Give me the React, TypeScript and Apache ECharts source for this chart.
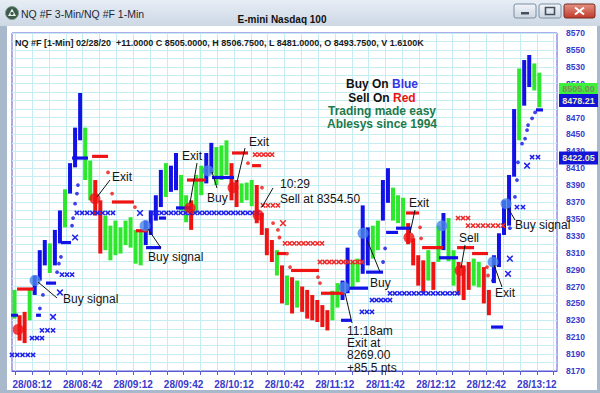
import React, { useEffect, useRef } from "react";
import * as echarts from "echarts";

// ---------- axis / labels ----------
const xTickLabels = ["28/08:12", "28/08:42", "28/09:12", "28/09:42", "28/10:12", "28/10:42", "28/11:12", "28/11:42", "28/12:12", "28/12:42", "28/13:12"];
const xLabelMinutes = [12, 42, 72, 102, 132, 162, 192, 222, 252, 282, 312]; // minutes after 08:00
const xTickMinutes = [2, 12, 22, 32, 42, 52, 62, 72, 82, 92, 102, 112, 122, 132, 142, 152, 162, 172, 182, 192, 202, 212, 222, 232, 242, 252, 262, 272, 282, 292, 302, 312, 322];
const yMin = 8170;
const yMax = 8570;

// ---------- price bars (3-minute bars from 08:00) ----------
const barStartMinute = 0;
const barMinutes = 3;
const barHigh = [
  8266, 8236, 8240, 8266, 8283, 8313, 8325, 8321, 8337, 8360,
  8385, 8416, 8458, 8499, 8458, 8419, 8396, 8372, 8354, 8342,
  8348, 8340, 8348, 8352, 8337, 8335, 8348, 8360, 8378, 8408,
  8416, 8413, 8428, 8402, 8378, 8372, 8402, 8413, 8428, 8440,
  8435, 8437, 8443, 8416, 8396, 8392, 8393, 8396, 8390, 8357,
  8339, 8325, 8313, 8295, 8283, 8281, 8277, 8270, 8266, 8260,
  8254, 8248, 8242, 8265, 8274, 8277, 8316, 8299, 8303, 8366,
  8340, 8342, 8348, 8396, 8410, 8387, 8378, 8375, 8345, 8327,
  8307, 8301, 8313, 8299, 8342, 8357, 8351, 8313, 8299, 8295,
  8299, 8303, 8299, 8293, 8266, 8307, 8333, 8372, 8402, 8480,
  8528, 8538, 8544, 8534, 8523,
];
const barLow = [
  8232, 8206, 8203, 8230, 8260, 8277, 8295, 8286, 8295, 8321,
  8340, 8380, 8411, 8443, 8396, 8372, 8354, 8309, 8313, 8301,
  8307, 8309, 8319, 8316, 8297, 8295, 8319, 8331, 8348, 8364,
  8376, 8382, 8384, 8360, 8346, 8337, 8357, 8378, 8392, 8404,
  8390, 8396, 8402, 8372, 8364, 8369, 8372, 8365, 8345, 8331,
  8307, 8299, 8283, 8250, 8248, 8238, 8245, 8240, 8232, 8230,
  8228, 8222, 8218, 8230, 8245, 8254, 8262, 8269, 8275, 8285,
  8295, 8303, 8313, 8348, 8369, 8348, 8345, 8340, 8320, 8295,
  8271, 8262, 8277, 8266, 8299, 8313, 8300, 8271, 8260, 8254,
  8266, 8271, 8269, 8250, 8236, 8274, 8293, 8331, 8342, 8400,
  8443, 8484, 8506, 8502, 8482,
];
// G = green, R = red, B = blue
const barColorCodes =
  "GRRGBBBGBB" + "GBBBGGRRGG" + "GGGGGGBBBB" + "GBBGGRGGBB" + "GGGRRGGGRR" +
  "RRGRGRGRRR" + "RRRGGBBGGB" + "BGGBBGGGRR" + "RRGRGBGGRR" + "RGGRRBBBBB" + "GBBGG";

// ---------- indicator markers: [startMinute, endMinute, price] / [minute, price] ----------
const blueXRows = [
  [0, 12.5, 8189], [11.9, 17.8, 8209], [17.8, 24.4, 8218], [24.4, 24.4, 8234], [28.5, 28.5, 8263],
  [29.7, 35.7, 8284], [37.5, 37.5, 8328], [38.6, 60, 8357], [76.1, 76.1, 8357], [83.2, 145.7, 8357],
  [208, 214, 8240], [214, 224.7, 8254], [224.7, 264.6, 8262], [294.9, 294.9, 8285], [296, 296, 8303],
  [300.2, 303.8, 8364], [306.2, 306.2, 8413], [309.2, 312.7, 8423],
];
const blueDots = [
  [16.6, 8244], [18.4, 8260], [26.8, 8287], [27.9, 8297], [29.1, 8305], [35.7, 8342], [36.3, 8351],
  [37.5, 8368], [38.6, 8380], [39.2, 8390], [220.6, 8299], [221.8, 8315], [285.9, 8277], [296, 8339],
  [299, 8376], [300.2, 8396], [300.8, 8417], [303.2, 8439], [305, 8445], [306.2, 8455], [306.8, 8461],
  [309.2, 8469], [311, 8476],
];
const blueDashes = [
  [0, 3, 8236], [14.9, 16.6, 8236], [20.8, 25.6, 8274], [29.7, 34.5, 8322], [36.3, 44.6, 8422],
  [80.3, 88, 8316], [88, 91, 8351], [98.1, 105.8, 8363], [119.5, 131.4, 8399], [196.2, 201, 8230],
  [201, 211.1, 8268], [211.1, 220, 8287], [223, 228.9, 8334], [228.9, 236.6, 8339], [254.5, 264.6, 8304],
  [285.4, 291.3, 8222], [312.1, 315.1, 8479],
];
const redXRows = [
  [144.5, 154.6, 8426], [149.2, 158.1, 8366], [161.1, 161.1, 8345], [162.3, 184.3, 8321],
  [183.1, 208.1, 8299], [265.2, 271.1, 8351], [271.1, 291.9, 8342],
];
const redDots = [
  [57.1, 8405], [59.5, 8380], [73.1, 8364], [140.3, 8416], [148.6, 8387], [155.2, 8345], [158.1, 8337],
  [159, 8328], [163.5, 8309], [165.3, 8293], [181.9, 8281], [183.1, 8274], [242.6, 8340], [243.2, 8327],
  [282.4, 8293], [283, 8283],
];
const redDashes = [
  [3.6, 12.5, 8267], [48.2, 56.5, 8424], [60, 71.9, 8370], [74.3, 80.3, 8336], [104.6, 114.7, 8396],
  [131.4, 139.7, 8428], [143.3, 147.4, 8413], [158.1, 162.3, 8309], [166.5, 181.9, 8289],
  [184.3, 196.8, 8262], [234.8, 241.4, 8357], [244.4, 255.6, 8316], [265.2, 274.1, 8316], [274.1, 282.4, 8309],
];
const redSignals = [[3.6, 8219], [49.3, 8374], [105.8, 8363], [131.4, 8387], [146.3, 8354.5], [236, 8328], [266.4, 8289]];
const blueSignals = [[13.7, 8277], [79.1, 8342], [116.5, 8407], [197.4, 8269], [208.7, 8333], [255.6, 8342], [286, 8299], [293.7, 8368]];

const priceBadges = [8505.0, 8478.21, 8422.05];
const headerText = "NQ #F [1-Min] 02/28/20  +11.0000 C 8505.0000, H 8506.7500, L 8481.0000, O 8493.7500, V 1.6100K";

// ---------- styles ----------
const FONT = "Liberation Sans, Arial, sans-serif";
const BLUE = "#1212e6";
const GREEN = "#2ee82e";
const RED = "#ee1414";
const AXIS_BLUE = "#5a5ad6";
const LABEL_BLUE = "#3a3acb";
const GRID_CYAN = "#c6eef2";
const colorMap: Record<string, string> = { G: GREEN, R: RED, B: BLUE };

const xRowRender = (color: string) => (params: any, api: any) => {
  const a = api.coord([api.value(0), api.value(2)]);
  const b = api.coord([api.value(1), api.value(2)]);
  const span = b[0] - a[0];
  const single = span < 1;
  const n = single ? 1 : Math.max(2, Math.round(span / 4.8) + 1);
  const h = single ? 2.8 : 2.1;
  const children: any[] = [];
  for (let i = 0; i < n; i++) {
    const cx = n === 1 ? a[0] : a[0] + (span * i) / (n - 1);
    const cy = a[1];
    children.push({ type: "line", shape: { x1: cx - h, y1: cy - h, x2: cx + h, y2: cy + h }, style: { stroke: color, lineWidth: 1.5 } });
    children.push({ type: "line", shape: { x1: cx - h, y1: cy + h, x2: cx + h, y2: cy - h }, style: { stroke: color, lineWidth: 1.5 } });
  }
  return { type: "group", children };
};

const dashRender = (color: string) => (params: any, api: any) => {
  const a = api.coord([api.value(0), api.value(2)]);
  const b = api.coord([api.value(1), api.value(2)]);
  return {
    type: "rect",
    shape: { x: a[0] - 1, y: a[1] - 1.6, width: Math.max(3, b[0] - a[0] + 2), height: 3.2 },
    style: { fill: color },
  };
};

function buildOption() {
  const barData = barHigh.map((h, i) => [barStartMinute + barMinutes * i + barMinutes / 2, barLow[i], h]);
  return {
    animation: false,
    backgroundColor: "transparent",
    grid: { left: 12, right: 43, top: 33, bottom: 22, show: true, backgroundColor: "#ffffff", borderColor: AXIS_BLUE, borderWidth: 1 },
    xAxis: {
      type: "value",
      min: 0,
      max: 324,
      interval: 5,
      axisLine: { show: true, lineStyle: { color: AXIS_BLUE, width: 1 } },
      axisTick: { show: true, customValues: xTickMinutes, length: 4, lineStyle: { color: AXIS_BLUE } },
      axisLabel: {
        customValues: xLabelMinutes,
        formatter: (v: number) => {
          const idx = xLabelMinutes.indexOf(Math.round(v));
          return idx >= 0 ? xTickLabels[idx] : "";
        },
        color: LABEL_BLUE,
        fontWeight: "bold",
        fontSize: 10,
        fontFamily: FONT,
        margin: 8,
      },
      splitLine: { show: true, lineStyle: { color: GRID_CYAN, width: 1 } },
    },
    yAxis: {
      type: "value",
      position: "right",
      min: yMin,
      max: yMax,
      interval: 10,
      axisLine: { show: false },
      axisTick: { show: false },
      axisLabel: {
        formatter: (v: number) => (Math.round(v - yMin) % 20 === 0 ? String(Math.round(v)) : ""),
        color: LABEL_BLUE,
        fontWeight: "bold",
        fontSize: 8.5,
        fontFamily: FONT,
        margin: 9,
      },
      splitLine: { show: true, lineStyle: { color: GRID_CYAN, width: 1 } },
    },
    series: [
      {
        type: "custom",
        z: 2,
        encode: { x: 0, y: [1, 2] },
        data: barData,
        renderItem: (params: any, api: any) => {
          const t = api.value(0);
          const lo = api.coord([t, api.value(1)]);
          const hi = api.coord([t, api.value(2)]);
          const c = colorMap[barColorCodes[params.dataIndex]] || GREEN;
          return {
            type: "rect",
            shape: { x: lo[0] - 2, y: hi[1], width: 4, height: Math.max(1, lo[1] - hi[1]) },
            style: { fill: c },
          };
        },
      },
      { type: "custom", z: 3, encode: { x: [0, 1], y: 2 }, data: blueDashes, renderItem: dashRender(BLUE) },
      { type: "custom", z: 3, encode: { x: [0, 1], y: 2 }, data: redDashes, renderItem: dashRender(RED) },
      { type: "custom", z: 3, encode: { x: [0, 1], y: 2 }, data: blueXRows, renderItem: xRowRender("#2020ee") },
      { type: "custom", z: 3, encode: { x: [0, 1], y: 2 }, data: redXRows, renderItem: xRowRender("#ee2a2a") },
      { type: "scatter", z: 3, data: blueDots, symbol: "circle", symbolSize: 3.8, itemStyle: { color: BLUE } },
      { type: "scatter", z: 3, data: redDots, symbol: "circle", symbolSize: 3.8, itemStyle: { color: RED } },
      { type: "scatter", z: 4, data: redSignals, symbol: "circle", symbolSize: 11, itemStyle: { color: "#ee1111" } },
      { type: "scatter", z: 4, data: blueSignals, symbol: "circle", symbolSize: 11, itemStyle: { color: "#4a86e8" } },
    ],
  };
}

const txt = (x: number, y: number, text: string, extra: any = {}) => ({
  type: "text",
  x,
  y,
  z: 100,
  style: { text, fontSize: 12, fontFamily: FONT, fill: "#141414", align: "left", verticalAlign: "middle", ...extra },
});
const ln = (x1: number, y1: number, x2: number, y2: number) => ({
  type: "line",
  z: 100,
  shape: { x1, y1, x2, y2 },
  style: { stroke: "#111", lineWidth: 1 },
});

function chromeElements() {
  const els: any[] = [
    { type: "rect", z: -100, shape: { x: 0, y: 0, width: 600, height: 393 }, style: { fill: "#a9b9cc" } },
    {
      type: "rect",
      z: -99,
      shape: { x: 0, y: 0, width: 600, height: 26 },
      style: { fill: new echarts.graphic.LinearGradient(0, 0, 0, 1, [{ offset: 0, color: "#e6edf5" }, { offset: 1, color: "#cdd8e5" }]) },
    },
    { type: "rect", z: -99, shape: { x: 7, y: 26, width: 590, height: 364 }, style: { fill: "#ffffff" } },
    { type: "circle", z: 100, shape: { cx: 12, cy: 13, r: 6.5 }, style: { fill: "#3d5b4c", stroke: "#7f9a8c", lineWidth: 1 } },
    { type: "polygon", z: 101, shape: { points: [[12, 8.5], [16, 16], [8, 16]] }, style: { fill: "#e8f0ea" } },
    { type: "circle", z: 102, shape: { cx: 12, cy: 13.5, r: 1.6 }, style: { fill: "#3d5b4c" } },
    txt(21, 14, "NQ #F 3-Min/NQ #F 1-Min", { fontSize: 10.5, fill: "#1c2838" }),
    txt(282, 19, "E-mini Nasdaq 100", { fontSize: 10, fontWeight: "bold", fill: "#111", align: "center" }),
  ];
  const btnFill = new echarts.graphic.LinearGradient(0, 0, 0, 1, [{ offset: 0, color: "#f2f5f9" }, { offset: 1, color: "#ccd6e2" }]);
  els.push({ type: "rect", z: 100, shape: { x: 514, y: 4, width: 22, height: 14, r: 2 }, style: { fill: btnFill, stroke: "#7d8ea2", lineWidth: 1 } });
  els.push({ type: "rect", z: 101, shape: { x: 521, y: 12, width: 8, height: 2.5 }, style: { fill: "#44505f" } });
  els.push({ type: "rect", z: 100, shape: { x: 539, y: 4, width: 22, height: 14, r: 2 }, style: { fill: btnFill, stroke: "#7d8ea2", lineWidth: 1 } });
  els.push({ type: "rect", z: 101, shape: { x: 545.5, y: 7.5, width: 9, height: 7 }, style: { fill: "none", stroke: "#44505f", lineWidth: 1.6 } });
  els.push({
    type: "rect",
    z: 100,
    shape: { x: 564, y: 4, width: 31, height: 14, r: 2 },
    style: { fill: new echarts.graphic.LinearGradient(0, 0, 0, 1, [{ offset: 0, color: "#e39383" }, { offset: 1, color: "#c0392b" }]), stroke: "#7a2a20", lineWidth: 1 },
  });
  els.push({ type: "line", z: 101, shape: { x1: 575, y1: 7.5, x2: 584, y2: 14.5 }, style: { stroke: "#fff", lineWidth: 2 } });
  els.push({ type: "line", z: 101, shape: { x1: 584, y1: 7.5, x2: 575, y2: 14.5 }, style: { stroke: "#fff", lineWidth: 2 } });
  return els;
}

function annotationElements() {
  const boxRich = (y: number, a: string, b: string, bColor: string) => ({
    type: "text",
    x: 382,
    y,
    z: 100,
    style: {
      text: `{k|${a}}{c|${b}}`,
      align: "center",
      verticalAlign: "middle",
      rich: {
        k: { fontSize: 12, fontWeight: "bold", fontFamily: FONT, fill: "#111" },
        c: { fontSize: 12, fontWeight: "bold", fontFamily: FONT, fill: bColor },
      },
    },
  });
  return [
    txt(15, 43, headerText, { fontSize: 9, fontWeight: "bold", fill: "#1a1a1a" }),
    boxRich(84, "Buy On ", "Blue", "#3434e6"),
    boxRich(98, "Sell On ", "Red", "#ee1111"),
    txt(382, 111, "Trading made easy", { fontWeight: "bold", fill: "#1d7a4c", align: "center" }),
    txt(382, 124, "Ablesys since 1994", { fontWeight: "bold", fill: "#1d7a4c", align: "center" }),
    txt(112, 177, "Exit"),
    ln(110, 180, 97, 197),
    txt(63, 299, "Buy signal"),
    ln(38, 282, 57, 298),
    txt(148, 257, "Buy signal"),
    ln(148, 229, 161, 248),
    txt(182, 156, "Exit"),
    ln(197, 163, 190, 203),
    txt(207, 198, "Buy"),
    ln(212, 172, 217, 188),
    txt(249, 142, "Exit"),
    ln(245, 148, 237, 182),
    txt(280, 184, "10:29"),
    txt(280, 199, "Sell at 8354.50"),
    ln(273, 188, 262, 207),
    txt(347, 331, "11:18am"),
    txt(347, 343, "Exit at"),
    txt(347, 355, "8269.00"),
    txt(347, 368, "+85.5 pts"),
    ln(352, 323, 345, 293),
    txt(370, 283, "Buy"),
    ln(367, 240, 380, 272),
    txt(409, 203, "Exit"),
    ln(415, 210, 410, 233),
    txt(459, 238, "Sell"),
    ln(465, 245, 461, 268),
    txt(495, 293, "Exit"),
    ln(494, 265, 502, 287),
    txt(515, 225, "Buy signal"),
    ln(508, 208, 515, 220),
  ];
}

export default function App() {
  const ref = useRef<HTMLDivElement>(null);
  useEffect(() => {
    document.body.style.margin = "0";
    const chart = echarts.init(ref.current as HTMLDivElement, null, { renderer: "svg" });
    chart.setOption(buildOption() as any);
    const badgeShift = [1.5, -10, 0];
    const badgeFill = ["#3cf03c", "#1414d8", "#1414d8"];
    const badgeText = ["#7d8c5a", "#ecebc0", "#ecebc0"];
    const badgeEls: any[] = [];
    priceBadges.forEach((v, i) => {
      const y = (chart.convertToPixel({ yAxisIndex: 0 } as any, v) as number) + badgeShift[i];
      badgeEls.push({ type: "rect", z: 110, shape: { x: 559, y: y - 6.5, width: 39, height: 13 }, style: { fill: badgeFill[i] } });
      badgeEls.push({
        type: "text",
        z: 111,
        x: 578.5,
        y,
        style: { text: v.toFixed(2), fontSize: 9, fontWeight: "bold", fontFamily: FONT, fill: badgeText[i], align: "center", verticalAlign: "middle" },
      });
    });
    chart.setOption({ graphic: { elements: [...chromeElements(), ...annotationElements(), ...badgeEls] } } as any);
    return () => chart.dispose();
  }, []);
  return <div ref={ref} style={{ width: 600, height: 393 }} />;
}
